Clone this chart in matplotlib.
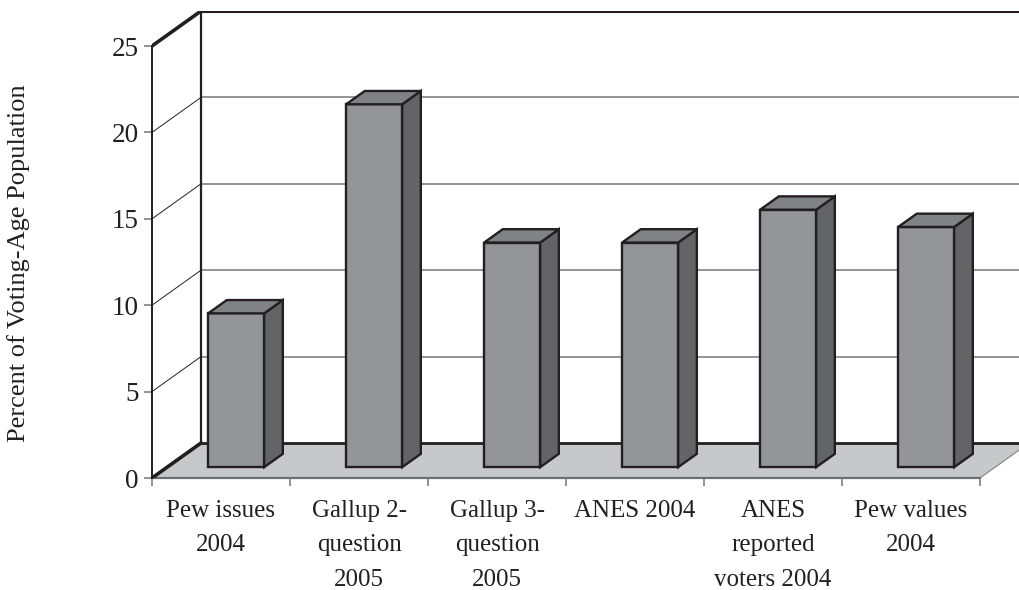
import matplotlib
matplotlib.use('Agg')
import matplotlib.pyplot as plt

plt.rcParams['font.family'] = ['Liberation Serif', 'DejaVu Serif']

labels = ['Pew issues\n2004', 'Gallup 2-\nquestion\n2005', 'Gallup 3-\nquestion\n2005',
          'ANES 2004', 'ANES\nreported\nvoters 2004', 'Pew values\n2004']
values = [8.9, 21, 13, 13, 14.9, 13.9]
yticks = [0, 5, 10, 15, 20, 25]

ink = '#231f20'
# oblique offset of the back wall, in data units
dx = 49 / 138
dy = 35 / 17.28
width = 0.406
near, far = 0.31, 0.69

fig = plt.figure(figsize=(10.19, 5.9), dpi=100)
ax = fig.add_axes([152 / 1019, 112 / 590, 867 / 1019, 467 / 590])
ax.set_xlim(0, 867 / 138)
ax.set_ylim(0, 467 / 17.28)
ax.patch.set_visible(False)

right = 8

# floor
ax.fill([0, dx, 6 + dx, 6], [0, dy, dy, 0], color='#c7c8ca', lw=0, zorder=1)
ax.plot([6, 6 + dx], [0, dy], color='#808285', lw=0.8, zorder=1.5)

# gridlines on side and back walls
for t in yticks[1:-1]:
    ax.plot([0, dx], [t, t + dy], color=ink, lw=0.7, zorder=2)
    ax.plot([dx, right], [t + dy, t + dy], color='#808285', lw=1.2, zorder=2)

# wall edges
ax.plot([dx, dx], [dy, 25 + dy], color=ink, lw=1.6, zorder=3)
ax.plot([dx, right], [dy, dy], color=ink, lw=2.0, zorder=3)
ax.plot([dx, right], [25 + dy, 25 + dy], color=ink, lw=2.2, zorder=3)
ax.plot([0, dx], [25, 25 + dy], color=ink, lw=2.6, zorder=3, solid_capstyle='round')
ax.plot([0, dx], [0, dy], color=ink, lw=2.6, zorder=3, solid_capstyle='round')

# 3d bars
for i, v in enumerate(values):
    x0 = i + 0.5 - width / 2 + near * dx
    x1 = x0 + width
    y0 = near * dy
    ox = (far - near) * dx
    oy = (far - near) * dy
    style = dict(edgecolor=ink, linewidth=1.7, joinstyle='miter', zorder=4)
    ax.fill([x0, x1, x1, x0], [y0, y0, y0 + v, y0 + v], facecolor='#939598', **style)
    ax.fill([x1, x1 + ox, x1 + ox, x1], [y0, y0 + oy, y0 + v + oy, y0 + v], facecolor='#636466', **style)
    ax.fill([x0, x1, x1 + ox, x0 + ox], [y0 + v, y0 + v, y0 + v + oy, y0 + v + oy], facecolor='#808285', **style)

for s in ['top', 'right']:
    ax.spines[s].set_visible(False)
ax.spines['left'].set_bounds(0, 25)
ax.spines['left'].set_color(ink)
ax.spines['left'].set_linewidth(1.4)
ax.spines['left'].set_zorder(3)
ax.spines['bottom'].set_bounds(0, 6)
ax.spines['bottom'].set_color('#6d6e71')
ax.spines['bottom'].set_linewidth(1.6)

ax.set_yticks(yticks)
ax.tick_params(axis='y', length=6, width=1.2, color='#808285', labelsize=19.5, labelcolor=ink, pad=3.5)
ax.set_xticks(range(7))
ax.set_xticklabels([])
ax.tick_params(axis='x', length=6, width=1.2, color='#808285')
ax.set_xticks([i + 0.5 for i in range(6)], minor=True)
ax.set_xticklabels(labels, minor=True, fontsize=18, color=ink, linespacing=1.74, va='top')
ax.tick_params(axis='x', which='minor', length=0, pad=15.5)

fig.text(19 / 1019, 1 - 263 / 590, 'Percent of Voting-Age Population', rotation=90,
         fontsize=19, color=ink, ha='center', va='center')

fig.savefig('out.png', dpi=100)
